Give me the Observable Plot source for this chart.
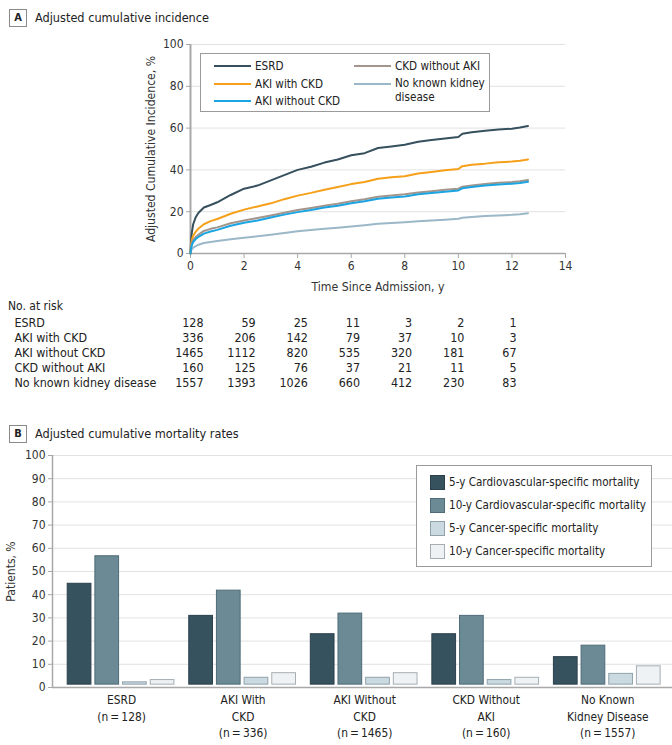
<!DOCTYPE html>
<html><head><meta charset="utf-8">
<script src="https://cdn.jsdelivr.net/npm/d3@7"></script>
<script src="https://cdn.jsdelivr.net/npm/@observablehq/plot@0.6"></script>
<style>
body{margin:0;background:#fff;}
#root{position:relative;width:672px;height:745px;overflow:hidden;font-family:'DejaVu Sans Condensed','Liberation Sans',sans-serif;color:#222;}
.tag{position:absolute;width:16px;height:16px;border:1px solid #8a8a8a;font-weight:bold;font-size:11px;line-height:16px;text-align:center;background:#fff;}
.title{position:absolute;font-size:12.6px;line-height:18px;white-space:nowrap;}
.legend{position:absolute;border:1px solid #9a9a9a;background:#fff;}
.lt{position:absolute;white-space:nowrap;font-size:11.6px;line-height:16px;}
svg{position:absolute;}
</style></head>
<body><div id="root"></div>
<script>
const FONT = "'DejaVu Sans Condensed','Liberation Sans',sans-serif";

// ---------- Panel A data ----------
const times = [0,0.02,0.05,0.1,0.2,0.3,0.5,0.75,1,1.5,2,2.5,3,3.5,4,4.5,5,5.5,6,6.5,7,7.5,8,8.5,9,9.5,10,10.15,10.5,11,11.5,12,12.3,12.6];
const esrd      = [0,6,10,14,17.5,19.5,22,23.2,24.5,28,31,32.5,35,37.5,40,41.5,43.5,45,47,48,50.5,51.2,52,53.5,54.3,55,55.7,57.3,58,58.7,59.3,59.7,60.3,61];
const akiWithCkd= [0,4,6.5,8.5,10.5,12,14,15.5,16.5,19,21,22.5,24,26,27.7,29,30.5,31.8,33.2,34.2,35.8,36.5,37,38.3,39,39.8,40.4,41.8,42.5,43,43.7,44,44.4,45];
const akiNoCkd  = [0,2.5,4,5.5,7,8,9.5,10.5,11.3,13.3,14.7,15.8,17.2,18.6,19.8,20.8,22,22.8,24,25,26.2,26.8,27.3,28.3,29,29.6,30.2,31.2,31.8,32.5,33,33.4,33.7,34.3];
const ckdNoAki  = [0,3,5,6.5,8,9,10.8,11.8,12.5,14.5,15.8,17,18.2,19.5,20.8,21.8,22.8,23.8,25,26,27.2,27.8,28.3,29.2,29.8,30.5,31,32,32.5,33.2,33.8,34.2,34.6,35.2];
const noKidney  = [0,1.3,2,2.8,3.5,4.2,5,5.5,6,6.8,7.5,8.2,9,9.8,10.6,11.2,11.8,12.3,12.9,13.5,14.2,14.6,15,15.4,15.8,16.2,16.6,17.1,17.5,17.9,18.2,18.5,18.8,19.3];
const seriesA = ["ESRD","AKI with CKD","AKI without CKD","CKD without AKI","No known kidney disease"];
const colorsA = ["#36505e","#f6a01a","#1ba4e2","#a3958b","#9bb8c8"];
const xTicksA = [0,2,4,6,8,10,12,14];
const yTicksA = [0,20,40,60,80,100];

// ---------- At-risk table ----------
const riskTimes = [0,2,4,6,8,10,12];
const riskEsrd = [128,59,25,11,3,2,1];
const riskAkiWithCkd = [336,206,142,79,37,10,3];
const riskAkiNoCkd = [1465,1112,820,535,320,181,67];
const riskCkdNoAki = [160,125,76,37,21,11,5];
const riskNoKidney = [1557,1393,1026,660,412,230,83];

// ---------- Panel B data ----------
const groupsB = ["ESRD","AKI With CKD","AKI Without CKD","CKD Without AKI","No Known Kidney Disease"];
const groupLabelsB = ["ESRD\n(n\u2009=\u2009128)","AKI With\nCKD\n(n\u2009=\u2009336)","AKI Without\nCKD\n(n\u2009=\u20091465)","CKD Without\nAKI\n(n\u2009=\u2009160)","No Known\nKidney Disease\n(n\u2009=\u20091557)"];
const seriesB = ["5-y Cardiovascular-specific mortality","10-y Cardiovascular-specific mortality","5-y Cancer-specific mortality","10-y Cancer-specific mortality"];
const cv5  = [44,30,22,22,12];
const cv10 = [56,41,31,30,17];
const ca5  = [1,3,3,2,4.7];
const ca10 = [2,5,5,3,8];
const fillsB = ["#36525f","#6b8a96","#cbd9e1","#eef2f4"];
const strokesB = ["#2a3f4a","#4e6b77","#8fa2ab","#a5adb2"];
const yTicksB = [0,10,20,30,40,50,60,70,80,90,100];

const root = document.getElementById("root");
function place(el, left, top){ el.style.left = left+"px"; el.style.top = top+"px"; root.appendChild(el); return el; }
function div(cls, html){ const d=document.createElement("div"); d.className=cls; d.innerHTML=html; return d; }

// headers
place(div("tag","A"), 9, 9);
place(div("title","Adjusted cumulative incidence"), 35, 9);
place(div("tag","B"), 9, 425);
place(div("title","Adjusted cumulative mortality rates"), 35, 425);

// ---------- Panel A plot ----------
const valsA = [esrd, akiWithCkd, akiNoCkd, ckdNoAki, noKidney];
const curveRows = seriesA.flatMap((s,i) => times.map((t,j) => ({series:s, t, v: valsA[i][j]})));
const drawOrder = ["No known kidney disease","ESRD","AKI with CKD","CKD without AKI","AKI without CKD"];

const plotA = Plot.plot({
  width: 672, height: 262, marginTop: 10, marginBottom: 43, marginLeft: 190, marginRight: 107,
  style: {fontFamily: FONT, fontSize: "12px", color: "#333", background: "transparent"},
  x: {domain: [0,14], axis: null},
  y: {domain: [0,100], axis: null},
  color: {domain: seriesA, range: colorsA},
  marks: [
    Plot.gridY(yTicksA.slice(1), {stroke: "#e2e2e2", strokeOpacity: 1}),
    Plot.ruleY([0], {stroke: "#a8a8a8", strokeWidth: 1.5}),
    Plot.ruleX([0], {stroke: "#a8a8a8", strokeWidth: 2}),
    Plot.axisX({ticks: xTicksA, tickSize: 5, tickPadding: 3, stroke: "#a8a8a8", fill: "#333", fontSize: 12,
      label: null}),
    Plot.axisX({ticks: [], tickSize: 0, fontSize: 12.2, fill: "#333",
      label: "Time Since Admission, y", labelAnchor: "center", labelArrow: "none", labelOffset: 37}),
    Plot.axisY({ticks: yTicksA, tickSize: 4, tickPadding: 3, stroke: "#a8a8a8", fill: "#333", fontSize: 12,
      label: null}),
    Plot.axisY({ticks: [], tickSize: 0, fontSize: 12.1, fill: "#333",
      label: "Adjusted Cumulative Incidence, %", labelAnchor: "center", labelArrow: "none", labelOffset: 44}),
    ...drawOrder.map(s => Plot.line(curveRows.filter(r => r.series === s), {x: "t", y: "v", stroke: "series", strokeWidth: 2}))
  ]
});
place(plotA, 0, 34);

// legend A
const legA = place(div("legend",""), 200, 53);
legA.style.width = "288px"; legA.style.height = "57px";
const legAItems = [
  {i:0, x:13, y:12, text:"ESRD"},
  {i:1, x:13, y:29.7, text:"AKI with CKD"},
  {i:2, x:13, y:47, text:"AKI without CKD"},
  {i:3, x:153, y:12, text:"CKD without AKI"},
  {i:4, x:153, y:29.7, text:"No known kidney<br>disease"}
];
legAItems.forEach(it => {
  const sw = document.createElement("div");
  sw.style.cssText = `position:absolute;left:${it.x}px;top:${it.y-1}px;width:37px;height:2px;background:${colorsA[it.i]};`;
  legA.appendChild(sw);
  const t = div("lt", seriesA[it.i] === "No known kidney disease" ? it.text : seriesA[it.i]);
  t.style.left = (it.x+41)+"px"; t.style.top = (it.y-8)+"px";
  if (it.i === 4) t.style.lineHeight = "14.6px";
  legA.appendChild(t);
});

// ---------- At-risk table ----------
const nar = place(div("lt","No. at risk"), 8, 298);
nar.style.fontSize = "12px";
const riskVals = [riskEsrd, riskAkiWithCkd, riskAkiNoCkd, riskCkdNoAki, riskNoKidney];
const riskRows = seriesA.flatMap((s,i) => riskTimes.map((t,j) => ({series:s, t, n: riskVals[i][j]})));
const plotT = Plot.plot({
  width: 672, height: 100, margin: 0,
  style: {fontFamily: FONT, fontSize: "12.4px", color: "#222", background: "transparent"},
  x: {domain: [0,12], range: [203,516], axis: null},
  y: {type: "point", domain: seriesA, range: [27,87], padding: 0, axis: null},
  marks: [
    Plot.text(riskRows, {x: "t", y: "series", text: d => String(d.n), textAnchor: "end", fill: "#222"}),
    Plot.text(seriesA, {y: d => d, text: d => d, frameAnchor: "left", textAnchor: "start", dx: 14, fill: "#222"})
  ]
});
place(plotT, 0, 296);

// ---------- Panel B background ----------
const plotBbg = Plot.plot({
  width: 672, height: 300, marginTop: 10, marginBottom: 58, marginLeft: 52, marginRight: 0,
  style: {fontFamily: FONT, fontSize: "12px", color: "#333", background: "transparent"},
  x: {domain: [0,1], axis: null},
  y: {domain: [0,100], axis: null},
  marks: [
    Plot.gridY(yTicksB.slice(1), {stroke: "#e2e2e2", strokeOpacity: 1}),
    Plot.ruleX([0], {stroke: "#a8a8a8", strokeWidth: 1.5}),
    Plot.ruleY([0], {stroke: "#a8a8a8", strokeWidth: 1.5}),
    Plot.axisY({ticks: yTicksB, tickSize: 4, tickPadding: 3, stroke: "#a8a8a8", fill: "#333", fontSize: 12, label: null}),
    Plot.axisY({ticks: [], tickSize: 0, fontSize: 12, fill: "#333",
      label: "Patients, %", labelAnchor: "center", labelArrow: "none", labelOffset: 46})
  ]
});
place(plotBbg, 0, 445);

// ---------- Panel B bars ----------
const valsB = [cv5, cv10, ca5, ca10];
const barRows = seriesB.flatMap((s,i) => groupsB.map((g,j) => ({series:s, group:g, value: valsB[i][j]})));
const plotB = Plot.plot({
  width: 680, height: 300, marginTop: 10, marginBottom: 58, marginLeft: 60, marginRight: 4,
  style: {fontFamily: FONT, fontSize: "12px", color: "#333", background: "transparent", overflow: "visible"},
  fx: {domain: groupsB, paddingInner: 0.1, paddingOuter: 0.05, axis: null, label: null},
  x: {domain: seriesB, paddingInner: 0.14, paddingOuter: 0, axis: null},
  y: {domain: [0,100], axis: null},
  marks: [
    ...seriesB.map((s,i) => Plot.barY(barRows.filter(r => r.series === s), {fx: "group", x: "series", y: "value", fill: fillsB[i], stroke: strokesB[i], strokeWidth: 1})),
    Plot.text(groupsB, {fx: d => d, text: d => groupLabelsB[groupsB.indexOf(d)], frameAnchor: "bottom", lineAnchor: "top", dy: 8, lineHeight: 1.38, fontSize: 12, fill: "#222"})
  ]
});
place(plotB, 0, 445);

// legend B
const legB = place(div("legend",""), 416, 465);
legB.style.width = "234px"; legB.style.height = "100px";
const rowY = [16.3, 38.7, 61.7, 85];
seriesB.forEach((s,i) => {
  const sw = document.createElement("div");
  sw.style.cssText = `position:absolute;left:13px;top:${rowY[i]-7}px;width:13px;height:13px;background:${fillsB[i]};border:1px solid ${strokesB[i]};`;
  legB.appendChild(sw);
  const t = div("lt", s);
  t.style.left = "32px"; t.style.top = (rowY[i]-8)+"px";
  legB.appendChild(t);
});
</script>
</body></html>
